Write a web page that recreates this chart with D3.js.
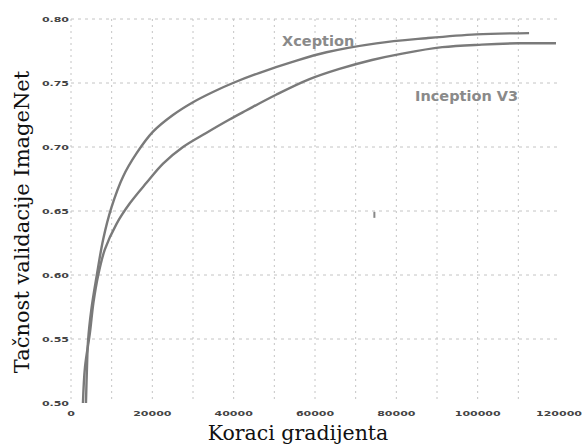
<!DOCTYPE html>
<html>
<head>
<meta charset="utf-8">
<script src="https://cdn.jsdelivr.net/npm/d3@7"></script>
<style>
	body{ margin:0; background:#fff; }
	svg{ display:block; }
	.tick-label{ font-family:"DejaVu Sans"; font-weight:bold; font-size:11px; fill:#444; }
	.series-label{ font-family:"DejaVu Sans"; font-weight:bold; font-size:14.5px; fill:#8a8a8a; }
	.axis-title{ font-family:"DejaVu Serif"; fill:#111; }
</style>
</head>
<body>
<div id="chart"></div>
<script>
// steps (x) and accuracy (y)
var xceptionSteps = [3680, 3930, 4200, 5000, 6300, 7920, 9970, 12820, 16100, 20170, 25070, 30000, 34900, 39830, 46380, 54480, 62820, 75090, 87360, 99630, 112640];
var xceptionAcc   = [0.500, 0.528, 0.549, 0.573, 0.599, 0.628, 0.653, 0.677, 0.695, 0.712, 0.725, 0.735, 0.743, 0.750, 0.758, 0.7665, 0.774, 0.781, 0.785, 0.788, 0.789];

var inceptionSteps = [2940, 3440, 4660, 5500, 6700, 8330, 11200, 14470, 18560, 22640, 27540, 33250, 38970, 43060, 50550, 58650, 66000, 74000, 81470, 91290, 101000, 110000, 119260];
var inceptionAcc   = [0.500, 0.528, 0.555, 0.578, 0.600, 0.620, 0.640, 0.656, 0.672, 0.687, 0.700, 0.711, 0.7215, 0.7285, 0.741, 0.753, 0.761, 0.768, 0.773, 0.778, 0.780, 0.781, 0.781];

// tick labels
var xTicks = [0, 20000, 40000, 60000, 80000, 100000, 120000];
var yTicks = [0.50, 0.55, 0.60, 0.65, 0.70, 0.75, 0.80];
var xGrid = [0, 10000, 20000, 30000, 40000, 50000, 60000, 70000, 80000, 90000, 100000, 110000];
var yGrid = [0.55, 0.60, 0.65, 0.70, 0.75, 0.80];

// series names and where they sit
var seriesLabels = [
	{name:'Xception', x:51900, y:0.779},
	{name:'Inception V3', x:84600, y:0.736}
];
// the small stray mark in the middle
var strayMarks = [{x:74600, y:0.647}];

var W = 583, H = 444;
var svg = d3.select('#chart').append('svg')
	.attr('width', W).attr('height', H);

var x = d3.scaleLinear().domain([0, 120000]).range([71, 559]);
var y = d3.scaleLinear().domain([0.50, 0.80]).range([403, 19]);

// grid
svg.append('g').selectAll('line')
	.data(xGrid).enter().append('line')
	.attr('x1', function(d){ return x(d); })
	.attr('x2', function(d){ return x(d); })
	.attr('y1', y(0.80)).attr('y2', y(0.50))
	.attr('stroke', '#c4c4c4').attr('stroke-width', 1)
	.attr('stroke-dasharray', '2,4');
svg.append('g').selectAll('line')
	.data(yGrid).enter().append('line')
	.attr('x1', x(0)).attr('x2', x(120000))
	.attr('y1', function(d){ return y(d); })
	.attr('y2', function(d){ return y(d); })
	.attr('stroke', '#c4c4c4').attr('stroke-width', 1)
	.attr('stroke-dasharray', '3,4');

// tick labels
svg.append('g').selectAll('text')
	.data(yTicks).enter().append('text')
	.attr('class', 'tick-label')
	.attr('text-anchor', 'end')
	.attr('transform', function(d){ return 'translate(' + (x(0) - 2) + ',' + (y(d) + 3) + ') scale(1,0.7)'; })
	.text(function(d){ return d.toFixed(2); });
svg.append('g').selectAll('text')
	.data(xTicks).enter().append('text')
	.attr('class', 'tick-label')
	.attr('text-anchor', 'middle')
	.attr('transform', function(d){ return 'translate(' + x(d) + ',' + (y(0.50) + 13) + ') scale(1,0.7)'; })
	.text(function(d){ return d; });

// lines
var line = d3.line()
	.x(function(d){ return x(d[0]); })
	.y(function(d){ return y(d[1]); })
	.curve(d3.curveCatmullRom.alpha(0.5));

function pairs(xs, ys){
	return xs.map(function(v, i){ return [v, ys[i]]; });
}
svg.append('path')
	.datum(pairs(inceptionSteps, inceptionAcc))
	.attr('d', line).attr('fill', 'none')
	.attr('stroke', '#7a7a7a').attr('stroke-width', 2.4);
svg.append('path')
	.datum(pairs(xceptionSteps, xceptionAcc))
	.attr('d', line).attr('fill', 'none')
	.attr('stroke', '#7a7a7a').attr('stroke-width', 2.4);

// series labels
svg.append('g').selectAll('text')
	.data(seriesLabels).enter().append('text')
	.attr('class', 'series-label')
	.attr('x', function(d){ return x(d.x); })
	.attr('y', function(d){ return y(d.y); })
	.text(function(d){ return d.name; });

svg.selectAll('rect.stray')
	.data(strayMarks).enter().append('rect')
	.attr('class', 'stray')
	.attr('x', function(d){ return x(d.x) - 1; })
	.attr('y', function(d){ return y(d.y) - 3; })
	.attr('width', 2).attr('height', 6)
	.attr('fill', '#888');

// axis titles
svg.append('text')
	.attr('class', 'axis-title')
	.attr('text-anchor', 'middle')
	.attr('font-size', '20.5px')
	.attr('x', 298).attr('y', 440)
	.text('Koraci gradijenta');
svg.append('text')
	.attr('class', 'axis-title')
	.attr('text-anchor', 'middle')
	.attr('font-size', '21px')
	.attr('transform', 'translate(29,222) rotate(-90)')
	.text('Tačnost validacije ImageNet');
</script>
</body>
</html>
